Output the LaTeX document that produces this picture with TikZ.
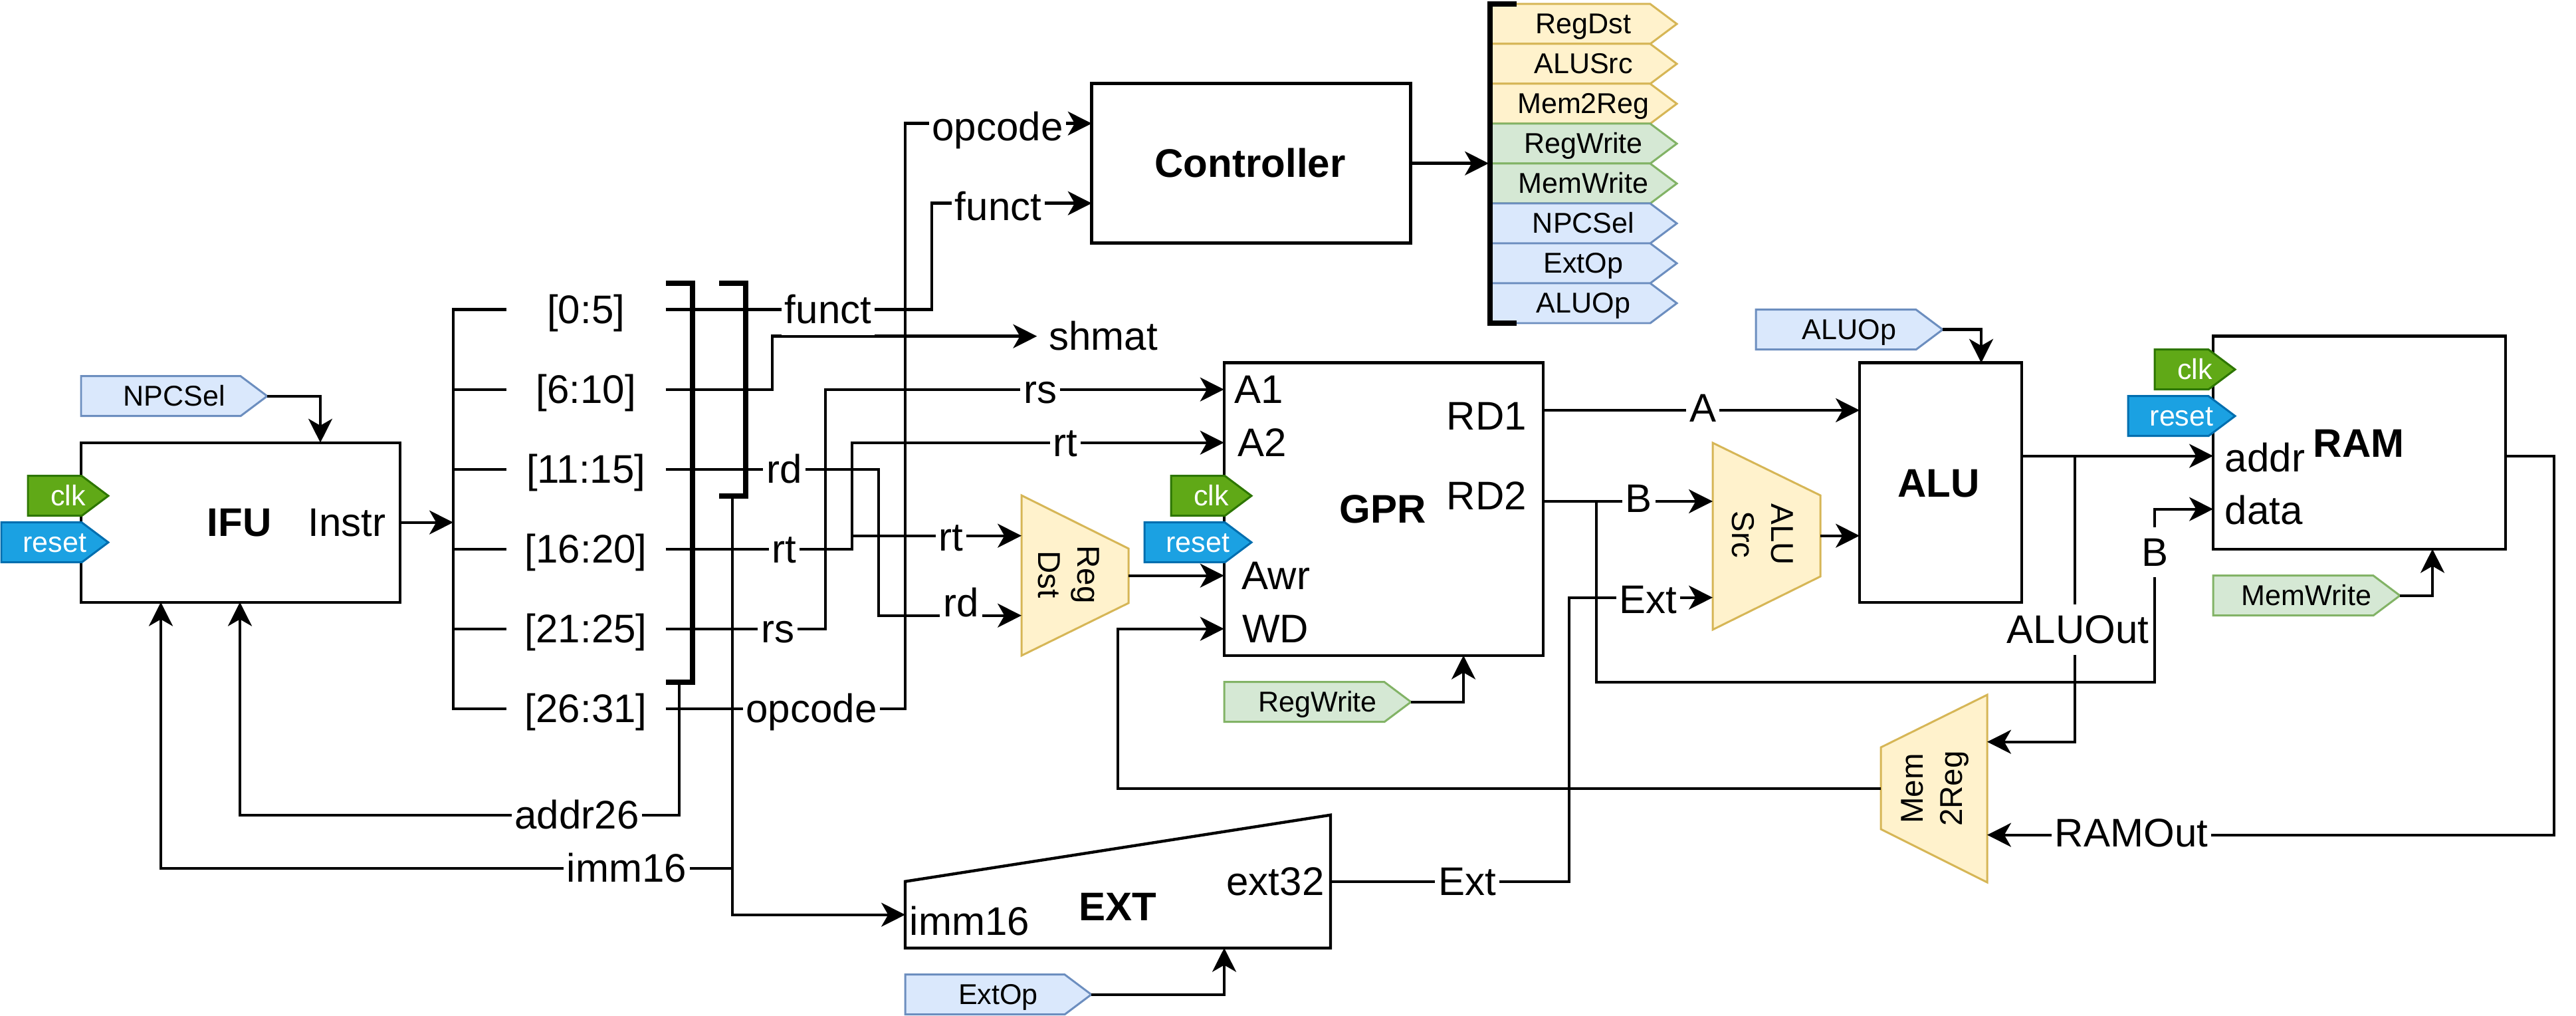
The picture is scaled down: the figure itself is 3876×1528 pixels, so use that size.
\documentclass[tikz,border=0pt]{standalone}
\usepackage{fontspec}
\setmainfont{Liberation Sans}
\usepackage{xcolor}
\usetikzlibrary{arrows.meta}

\definecolor{yfill}{HTML}{FFF2CC}
\definecolor{yline}{HTML}{D6B656}
\definecolor{gfill}{HTML}{D5E8D4}
\definecolor{gline}{HTML}{82B366}
\definecolor{bfill}{HTML}{DAE8FC}
\definecolor{bline}{HTML}{6C8EBF}
\definecolor{clkfill}{HTML}{60A917}
\definecolor{clkline}{HTML}{2D7600}
\definecolor{rstfill}{HTML}{1BA1E2}
\definecolor{rstline}{HTML}{006EAF}

\tikzset{
  >={Stealth[length=10.2pt,width=10.2pt,inset=2.9pt]},
  wire/.style={line width=1.25pt},
  brk/.style={line width=2.3pt},
  boxsize/.style 2 args={minimum width=#1*0.01cm, minimum height=#2*0.01cm},
  block/.style={draw, line width=1.25pt, inner sep=0pt, outer sep=0pt},
  muxbox/.style={draw=yline, fill=yfill, line width=0.85pt},
  lbl/.style={font=\fontsize{17.07}{20.5}\selectfont, inner xsep=1.4pt, inner ysep=1.3pt, text height=15.4pt, text depth=3.6pt},
  lblb/.style={lbl, font=\fontsize{17.07}{20.5}\selectfont\bfseries},
  wlabel/.style={lbl, fill=white},
  rowlbl/.style={lbl, inner sep=0pt, outer sep=0pt, minimum width=240*0.01cm},
  muxlbl/.style={font=\fontsize{13.5}{16.8}\selectfont, align=center, inner sep=0pt},
  tagtext/.style={font=\fontsize{12.25}{15}\selectfont, inner sep=0pt, outer sep=0pt, text height=11.1pt, text depth=2.6pt},
  ytag/.style={draw=yline, fill=yfill},
  gtag/.style={draw=gline, fill=gfill},
  btag/.style={draw=bline, fill=bfill},
  clktag/.style={draw=clkline, fill=clkfill, text=white},
  rsttag/.style={draw=rstline, fill=rstfill, text=white},
}

% style, name, left x, centre y, width, text
\newcommand{\sigtag}[6]{
  \path[draw, fill, line width=0.85pt, #1] (#3,#4-30) -- (#3+#5-40,#4-30) -- (#3+#5,#4) -- (#3+#5-40,#4+30) -- (#3,#4+30) -- cycle;
  \node[tagtext, #1, draw=none, fill=none, boxsize={#5}{60}] (#2) at (#3+#5/2,#4) {#6};
}

\begin{document}
\begin{tikzpicture}[x=0.01cm,y=-0.01cm]
\useasboundingbox (0,0) rectangle (3876,1528);

\node[block, boxsize={480}{240}] (ifu) at (362,785.7) {};
\node[block, boxsize={480}{240}] (ctrl) at (1882.3,245.7) {};
\node[block, boxsize={480}{440}] (gpr) at (2081.7,765.7) {};
\node[block, boxsize={244}{360}] (alu) at (2920,725.7) {};
\node[block, boxsize={440}{320}] (ram) at (3550,665.7) {};

\filldraw[muxbox] (1537,745) -- (1698,825) -- (1698,907) -- (1537,986) -- cycle;
\filldraw[muxbox] (2577,666) -- (2739,745) -- (2739,867) -- (2577,947) -- cycle;
\filldraw[muxbox] (2990,1045) -- (2990,1327) -- (2830,1247) -- (2830,1124) -- cycle;
\draw[block] (1362,1325.7) -- (2002,1225.7) -- (2002,1425.7) -- (1362,1425.7) -- cycle;

\node[muxlbl, rotate=-90] (regdst) at (1608,864) {Reg\\Dst};
\node[muxlbl, rotate=-90] (alusrc) at (2652,804) {ALU\\Src};
\node[muxlbl, rotate=90] (memreg) at (2912,1186) {Mem\\2Reg};

\node[lblb] (ifuT) at (360,785.7) {IFU};
\node[lbl] (instr) at (522,785.7) {Instr};
\node[lblb] (ctrlT) at (1881,245.7) {Controller};
\node[lblb] (gprT) at (2081,766) {GPR};
\node[lbl] (a1) at (1894,586) {A1};
\node[lbl] (a2) at (1899,666) {A2};
\node[lbl] (awr) at (1920,866) {Awr};
\node[lbl] (wd) at (1919,946) {WD};
\node[lbl] (rd1) at (2237,626) {RD1};
\node[lbl] (rd2) at (2237,746) {RD2};
\node[lblb] (aluT) at (2917,727) {ALU};
\node[lblb] (ramT) at (3549,667) {RAM};
\node[lbl] (addr) at (3408,689) {addr};
\node[lbl] (data) at (3406,768) {data};
\node[lblb] (extT) at (1682,1364) {EXT};
\node[lbl] (imm) at (1459,1386) {imm16};
\node[lbl] (ext32) at (1919,1326) {ext32};

\node[rowlbl] (r0) at (881.7,465.7) {[0:5]};
\node[rowlbl] (r1) at (881.7,585.7) {[6:10]};
\node[rowlbl] (r2) at (881.7,705.7) {[11:15]};
\node[rowlbl] (r3) at (881.7,825.7) {[16:20]};
\node[rowlbl] (r4) at (881.7,945.7) {[21:25]};
\node[rowlbl] (r5) at (881.7,1065.7) {[26:31]};
\node[lbl, minimum width=198*0.01cm] (shmat) at (1660,505.7) {shmat};

\sigtag{btag}{npc}{122}{595.7}{280}{NPCSel}
\sigtag{clktag}{clkA}{42}{745.7}{121}{clk}
\sigtag{rsttag}{rstA}{2}{815.7}{161}{reset}
\sigtag{clktag}{clkB}{1762}{745.7}{121}{clk}
\sigtag{rsttag}{rstB}{1722}{815.7}{161}{reset}
\sigtag{clktag}{clkC}{3242}{555.7}{121}{clk}
\sigtag{rsttag}{rstC}{3202}{625.7}{161}{reset}
\sigtag{gtag}{regw}{1842}{1055.7}{281}{RegWrite}
\sigtag{gtag}{memw}{3330}{895.7}{281}{MemWrite}
\sigtag{btag}{extop}{1362}{1495.7}{280}{ExtOp}
\sigtag{btag}{aluop}{2642}{495.7}{281}{ALUOp}

\sigtag{ytag}{cRegDst}{2242}{36}{281}{RegDst}
\sigtag{ytag}{cAluSrc}{2242}{96}{281}{ALUSrc}
\sigtag{ytag}{cMemReg}{2242}{156}{281}{Mem2Reg}
\sigtag{gtag}{cRegW}{2242}{216}{281}{RegWrite}
\sigtag{gtag}{cMemW}{2242}{276}{281}{MemWrite}
\sigtag{btag}{cNpc}{2242}{336}{281}{NPCSel}
\sigtag{btag}{cExt}{2242}{396}{281}{ExtOp}
\sigtag{btag}{cAlu}{2242}{456}{281}{ALUOp}

\coordinate (comb) at (682,785.7);
\coordinate (ctrlO) at (1642.7,185.7);
\coordinate (ctrlF) at (1642.7,305.7);
\coordinate (ctrlBus) at (2240,245.7);
\coordinate (gprA1) at (1841.7,585.7);
\coordinate (gprA2) at (1841.7,665.7);
\coordinate (gprAwr) at (1841.7,865.7);
\coordinate (gprWD) at (1841.7,945.7);
\coordinate (gprR1) at (2321.7,617);
\coordinate (gprR2) at (2321.7,754);
\coordinate (gprS) at (2202,985.7);
\coordinate (regA) at (1537,805.7);
\coordinate (regB) at (1537,925.7);
\coordinate (regOut) at (1698,865.7);
\coordinate (rtTap) at (1282,805.7);
\coordinate (aluA) at (2798,617);
\coordinate (aluB) at (2798,805.7);
\coordinate (aluN) at (2981,545.7);
\coordinate (aluOut) at (3042,685.7);
\coordinate (srcA) at (2577,754);
\coordinate (srcB) at (2577,898.7);
\coordinate (srcOut) at (2739,805.7);
\coordinate (bTap) at (2402,754);
\coordinate (bLoop) at (3242,1025.7);
\coordinate (aluTap) at (3122,685.7);
\coordinate (ramA) at (3330,685.7);
\coordinate (ramD) at (3330,765.7);
\coordinate (ramOut) at (3770,685.7);
\coordinate (ramS) at (3660,825.7);
\coordinate (memA) at (2990,1115.7);
\coordinate (memB) at (2990,1255.7);
\coordinate (memOut) at (2830,1185.7);
\coordinate (extIn) at (1362,1375.7);
\coordinate (extOut) at (2002,1325.7);
\coordinate (extS) at (1842,1425.7);
\coordinate (ifuN) at (482,665.7);
\coordinate (ifuA) at (242,905.7);
\coordinate (ifuB) at (361,905.7);
\coordinate (tailA) at (1022,1025.7);
\coordinate (tailB) at (1102,745.7);
\coordinate (tailAb) at (1022,1225.7);
\coordinate (tailBm) at (1102,1305.7);

\draw[wire, ->] (ifu.east) -- (comb);
\draw[wire] (r0.west) -- (r0.west -| comb) -- (r5.west -| comb) -- (r5.west);
\draw[wire] (r1.west) -- (r1.west -| comb);
\draw[wire] (r2.west) -- (r2.west -| comb);
\draw[wire] (r3.west) -- (r3.west -| comb);
\draw[wire] (r4.west) -- (r4.west -| comb);

\draw[wire, ->] (r0.east) -- ++(400,0) |- (ctrlF);
\draw[wire, ->] (r1.east) -- ++(160,0) |- (shmat.west);
\draw[wire, ->] (r2.east) -- ++(320,0) |- (regB);
\draw[wire, ->] (r3.east) -- ++(280,0) |- (gprA2);
\draw[wire, ->] (rtTap) -- (regA);
\draw[wire, ->] (r4.east) -- ++(240,0) |- (gprA1);
\draw[wire, ->] (r5.east) -- ++(360,0) |- (ctrlO);

\draw[wire, ->] (ctrl.east) -- (ctrlBus);
\draw[wire, ->] (regOut) -- (gprAwr);
\draw[wire, ->] (gprR1) -- (aluA);
\draw[wire, ->] (gprR2) -- (srcA);
\draw[wire, ->] (bTap) |- (bLoop) |- (ramD);
\draw[wire, ->] (extOut) -- ++(359,0) |- (srcB);
\draw[wire, ->] (srcOut) -- (aluB);
\draw[wire, ->] (aluOut) -- (ramA);
\draw[wire, ->] (aluTap) |- (memA);
\draw[wire, ->] (ramOut) -- ++(73,0) |- (memB);
\draw[wire, ->] (memOut) -- ++(-1148,0) |- (gprWD);

\draw[wire, ->] (tailA) |- (tailAb) -| (ifuB);
\draw[wire, ->] (tailB) |- (extIn);
\draw[wire, ->] (tailBm) -| (ifuA);

\draw[wire, ->] (npc.east) -| (ifuN);
\draw[wire, ->] (regw.east) -| (gprS);
\draw[wire, ->] (extop.east) -| (extS);
\draw[wire, ->] (aluop.east) -| (aluN);
\draw[wire, ->] (memw.east) -| (ramS);

\draw[brk] (1002,425.7) -- (1042,425.7) -- (1042,1025.7) -- (1002,1025.7);
\draw[brk] (1082,425.7) -- (1122,425.7) -- (1122,745.7) -- (1082,745.7);
\draw[brk] (2282,6) -- (2242,6) -- (2242,486) -- (2282,486);

\node[wlabel] (lFunctA) at (1246,465.7) {funct};
\node[wlabel] (lFunctB) at (1502,310.7) {funct};
\node[wlabel] (lOpA) at (1221,1065.7) {opcode};
\node[wlabel] (lOpB) at (1501,190.7) {opcode};
\node[wlabel] (lRdA) at (1180,705.7) {rd};
\node[wlabel] (lRdB) at (1446,907) {rd};
\node[wlabel] (lRtA) at (1180,825.7) {rt};
\node[wlabel] (lRtB) at (1431,808) {rt};
\node[wlabel] (lRtC) at (1603,665.7) {rt};
\node[wlabel] (lRsA) at (1170,945.7) {rs};
\node[wlabel] (lRsB) at (1565,585.7) {rs};
\node[wlabel] (lAddr) at (868,1225.7) {addr26};
\node[wlabel] (lImm) at (943,1305.7) {imm16};
\node[wlabel] (lExtA) at (2207.6,1325.7) {Ext};
\node[wlabel] (lExtB) at (2480,902) {Ext};
\node[wlabel] (lA) at (2562,614) {A};
\node[wlabel] (lBa) at (2465.6,750) {B};
\node[wlabel] (lBb) at (3242,830.5) {B};
\node[wlabel] (lAluOut) at (3126.6,947) {ALUOut};
\node[wlabel] (lRamOut) at (3207,1253) {RAMOut};

\end{tikzpicture}
\end{document}
